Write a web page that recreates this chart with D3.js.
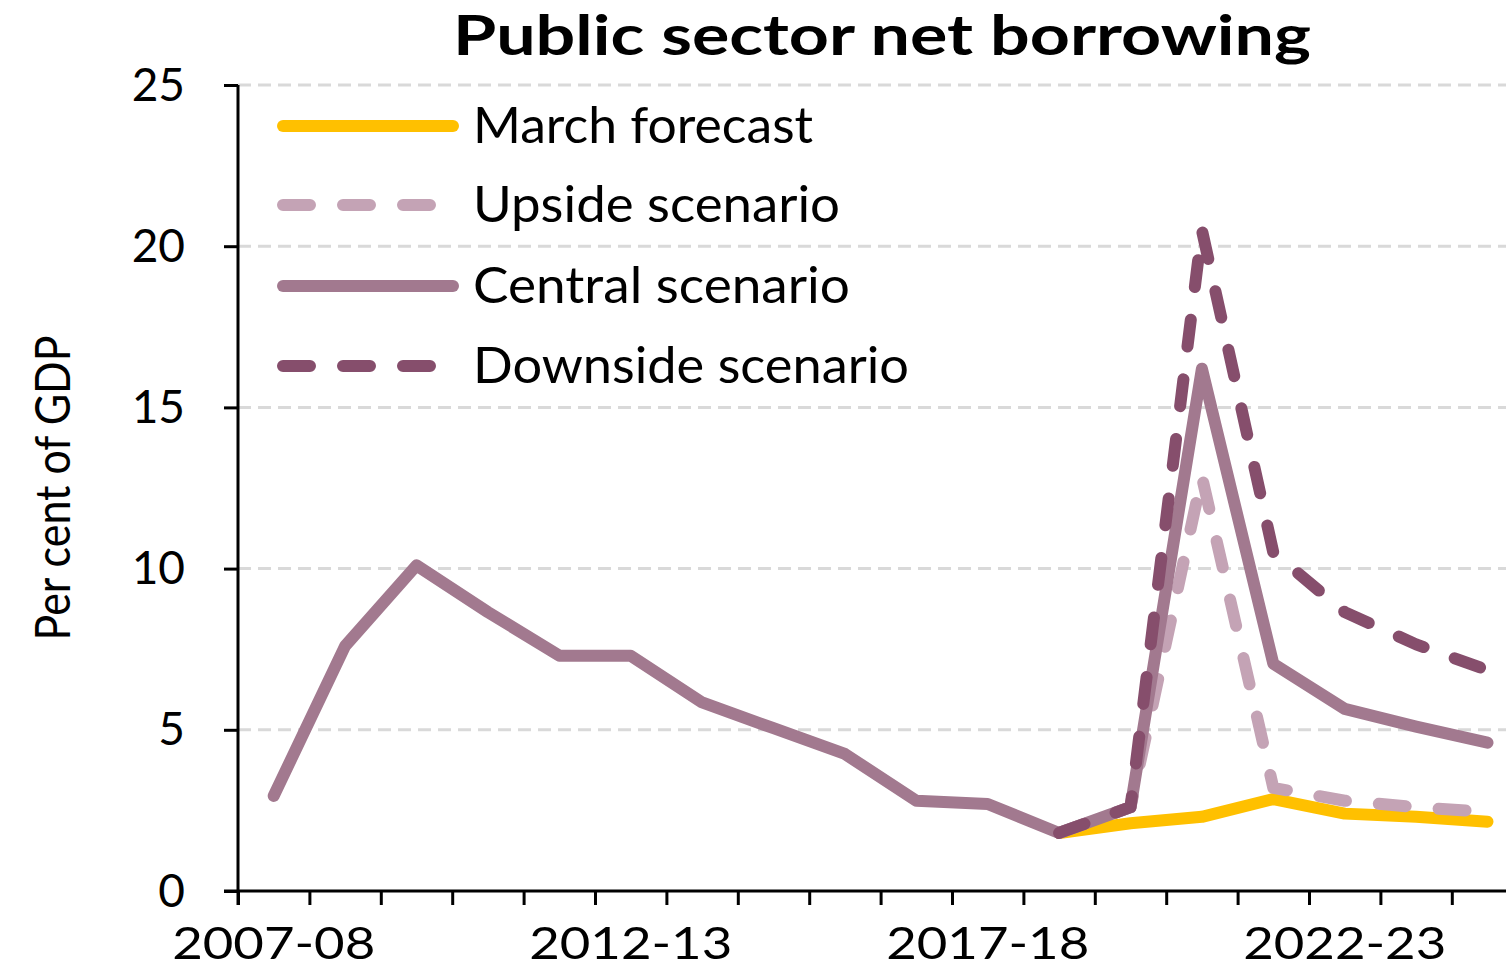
<!DOCTYPE html>
<html>
<head>
<meta charset="utf-8">
<script src="https://cdn.jsdelivr.net/npm/d3@7"></script>
<style>
  html, body { margin: 0; padding: 0; background: #fff; overflow: hidden; }
  svg { display: block; }
</style>
</head>
<body>
<svg id="chart" width="1506" height="970"></svg>
<script>
const years = ["2007-08","2008-09","2009-10","2010-11","2011-12","2012-13","2013-14","2014-15","2015-16","2016-17","2017-18","2018-19","2019-20","2020-21","2021-22","2022-23","2023-24","2024-25"];
const labelledYears = ["2007-08","2012-13","2017-18","2022-23"];
const yTicks = [0, 5, 10, 15, 20, 25];

const marchForecast = [null,null,null,null,null,null,null,null,null,null,null,1.8,2.1,2.3,2.85,2.4,2.3,2.15];
const upsideScenario = [null,null,null,null,null,null,null,null,null,null,null,1.8,2.6,12.85,3.2,2.8,2.6,2.45];
const centralScenario = [2.95,7.6,10.1,8.65,7.3,7.3,5.85,5.05,4.25,2.8,2.7,1.8,2.6,16.2,7.05,5.65,5.1,4.6];
const downsideScenario = [null,null,null,null,null,null,null,null,null,null,null,1.8,2.6,20.5,10.5,8.65,7.65,6.85];

const seriesNames = ["March forecast","Upside scenario","Central scenario","Downside scenario"];
const seriesColors = ["#FFC000","#C4A3B5","#A2798F","#864E6C"];
const seriesDash = [null,"27,33",null,"27,33"];
const seriesValues = [marchForecast, upsideScenario, centralScenario, downsideScenario];
const legendWidths = [340, 367, 377, 436];

(function () {
const svg = d3.select("#chart");
const left = 238, step = 71.4, plotTop = 85, plotBottom = 891;

const xBand = d3.scaleBand().domain(years).range([left, left + step * years.length]).padding(0);
const xEdge = d3.scaleLinear().domain([0, years.length]).range([left, left + step * years.length]);
const y = d3.scaleLinear().domain([0, 25]).range([plotBottom, plotTop]);
const xc = d => xBand(d) + xBand.bandwidth() / 2;
const font = "Lato, 'DejaVu Sans', sans-serif";

// gridlines
svg.append("g").selectAll("line").data(yTicks.filter(t => t > 0)).join("line")
  .attr("x1", left).attr("x2", 1506)
  .attr("y1", d => y(d)).attr("y2", d => y(d))
  .attr("stroke", "#d9d9d9").attr("stroke-width", 3).attr("stroke-dasharray", "13,7");

// y axis
const yAxis = svg.append("g").attr("transform", `translate(${left},0)`)
  .call(d3.axisLeft(y).tickValues(yTicks).tickSize(14).tickPadding(39).tickFormat(d3.format("d")));
yAxis.select(".domain").attr("d", `M0,${plotTop}V${plotBottom + 14}`).attr("stroke", "#000").attr("stroke-width", 3);
yAxis.selectAll(".tick line").attr("stroke", "#000").attr("stroke-width", 3);
yAxis.selectAll(".tick text").attr("font-family", font).attr("font-size", 46).attr("fill", "#000").attr("dy", "0.33em");

// x axis ticks at year boundaries
const xAxis = svg.append("g").attr("transform", `translate(0,${plotBottom})`)
  .call(d3.axisBottom(xEdge).tickValues(d3.range(0, years.length + 1)).tickSize(14).tickFormat(""));
xAxis.select(".domain").attr("d", `M${left - 14},0H1506`).attr("stroke", "#000").attr("stroke-width", 3);
xAxis.selectAll(".tick line").attr("stroke", "#000").attr("stroke-width", 3);

// x labels at band centres
const xLab = svg.append("g").attr("transform", `translate(0,${plotBottom})`)
  .call(d3.axisBottom(xBand).tickValues(labelledYears).tickSize(0).tickPadding(0));
xLab.select(".domain").remove();
xLab.selectAll(".tick text").attr("font-family", font).attr("font-size", 44)
  .attr("fill", "#000").attr("dy", 0).attr("y", 68)
  .attr("textLength", 203).attr("lengthAdjust", "spacingAndGlyphs");

// y axis title
svg.append("text")
  .attr("transform", `translate(70,488) rotate(-90)`)
  .attr("text-anchor", "middle")
  .attr("font-family", font).attr("font-size", 49)
  .attr("textLength", 305).attr("lengthAdjust", "spacingAndGlyphs")
  .text("Per cent of GDP");

// title
svg.append("text")
  .attr("x", 882).attr("y", 55).attr("text-anchor", "middle")
  .attr("font-family", font).attr("font-size", 56).attr("font-weight", "bold")
  .attr("textLength", 858).attr("lengthAdjust", "spacingAndGlyphs")
  .text("Public sector net borrowing");

// lines
const line = d3.line()
  .defined(d => d.v !== null)
  .x(d => xc(d.year))
  .y(d => y(d.v));

seriesValues.forEach((vals, i) => {
  const data = years.map((yr, j) => ({ year: yr, v: vals[j] }));
  svg.append("path").datum(data)
    .attr("d", line)
    .attr("fill", "none")
    .attr("stroke", seriesColors[i])
    .attr("stroke-width", 12)
    .attr("stroke-linecap", "round")
    .attr("stroke-linejoin", "round")
    .attr("stroke-dasharray", seriesDash[i]);
});

// legend
const legendY = [126, 205, 286, 366];
const lg = svg.append("g");
seriesNames.forEach((name, i) => {
  lg.append("line")
    .attr("x1", 283).attr("x2", seriesDash[i] ? 439 : 453)
    .attr("y1", legendY[i]).attr("y2", legendY[i])
    .attr("stroke", seriesColors[i]).attr("stroke-width", 12)
    .attr("stroke-linecap", "round")
    .attr("stroke-dasharray", seriesDash[i]);
  lg.append("text")
    .attr("x", 473).attr("y", legendY[i] + 17)
    .attr("font-family", font).attr("font-size", 50)
    .attr("textLength", legendWidths[i]).attr("lengthAdjust", "spacingAndGlyphs")
    .text(name);
});
})();
</script>
</body>
</html>
